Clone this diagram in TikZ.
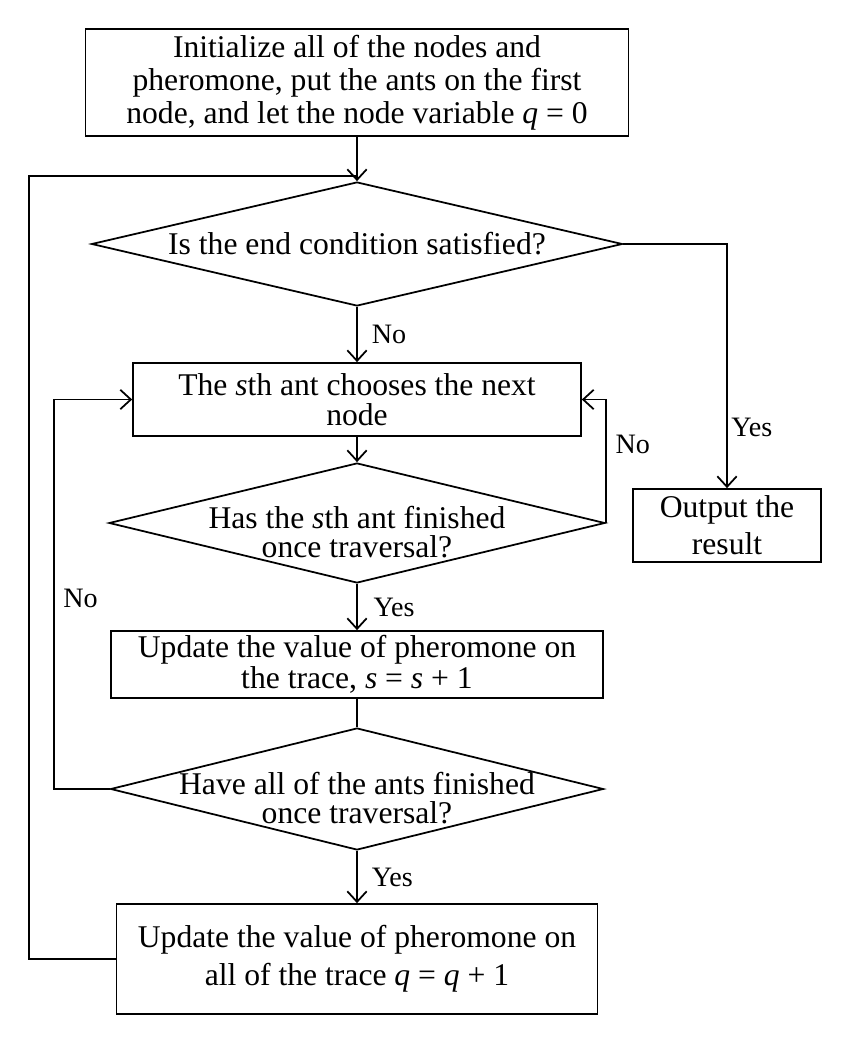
\documentclass[tikz,border=0pt]{standalone}
\usepackage{fontspec}
\setmainfont{Liberation Serif}
\usetikzlibrary{shapes.geometric,arrows.meta}

\tikzset{
  box/.style={draw, line width=1pt, align=center, inner sep=0pt,
    font=\fontsize{18}{18.8}\selectfont},
  decision/.style={draw, diamond, line width=1pt, align=center, aspect=4,
    inner xsep=-2.5cm, inner ysep=0pt, font=\fontsize{18}{16.5}\selectfont},
  lowtext/.style={text height=40pt},
  line/.style={line width=1pt},
  arrow/.style={line width=1pt, -{Straight Barb[length=6pt,width=11pt]}},
  lbl/.style={font=\fontsize{16}{18.8}\selectfont, inner sep=2pt}
}

\begin{document}
\begin{tikzpicture}[x=0.02cm,y=-0.02cm]
    \useasboundingbox (0,0) rectangle (850,1044);
    % nodes of the flow
    \node[box, minimum width=10.86cm, minimum height=2.14cm] (init) at (357,82.5)
      {Initialize all of the nodes and\\pheromone, put the ants on the first\\node, and let the node variable \textit{q} = 0};
    \node[decision, minimum width=10.62cm, minimum height=2.48cm] (endcond) at (357,244)
      {Is the end condition satisfied?};
    \node[box, minimum width=8.96cm, minimum height=1.46cm, font=\fontsize{18}{17}\selectfont] (choose) at (357,399.5)
      {The \textit{s}th ant chooses the next\\node};
    \node[decision, lowtext, minimum width=9.92cm, minimum height=2.4cm] (antdone) at (357,523)
      {Has the \textit{s}th ant finished\\once traversal?};
    \node[box, minimum width=9.84cm, minimum height=1.34cm, font=\fontsize{18}{15.5}\selectfont] (updates) at (357,664.5)
      {Update the value of pheromone on\\the trace, \textit{s} = \textit{s} + 1};
    \node[decision, lowtext, minimum width=9.86cm, minimum height=2.44cm] (alldone) at (357,789)
      {Have all of the ants finished\\once traversal?};
    \node[box, minimum width=9.62cm, minimum height=2.2cm, font=\fontsize{18}{21.6}\selectfont] (updateq) at (357,959)
      {Update the value of pheromone on\\all of the trace \textit{q} = \textit{q} + 1};
    \node[box, minimum width=3.76cm, minimum height=1.46cm, font=\fontsize{18}{21}\selectfont] (output) at (727,525.5)
      {Output the\\result};
    \coordinate (join) at (357,176);

    % connectors
    \draw[arrow] (init.south) -- (endcond.north);
    \draw[line] (updateq.west) -- ++(-87,0) |- (join);
    \draw[arrow] (endcond.south) -- node[lbl, right, xshift=6pt]{No} (choose.north);
    \draw[arrow] (endcond.east) -| node[lbl, right, pos=0.875]{Yes} (output.north);
    \draw[arrow] (choose.south) -- (antdone.north);
    \draw[arrow] (antdone.east) |- node[lbl, right, pos=0.32, xshift=3pt]{No} (choose.east);
    \draw[arrow] (antdone.south) -- node[lbl, right, xshift=7pt]{Yes} (updates.north);
    \draw[line] (updates.south) -- (alldone.north);
    \draw[arrow] (alldone.west) -- ++(-56,0) |- node[lbl, right, pos=0.245, xshift=3pt]{No} (choose.west);
    \draw[arrow] (alldone.south) -- node[lbl, right, xshift=6pt]{Yes} (updateq.north);
\end{tikzpicture}
\end{document}
